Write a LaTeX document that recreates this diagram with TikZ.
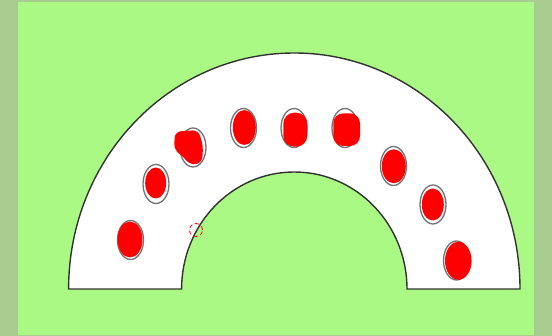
\documentclass[tikz,border=0pt]{standalone}
\usepackage{xcolor}
\usepackage{tikz}
\usetikzlibrary{shapes.geometric}
\definecolor{framegreen}{HTML}{A8CC90}
\definecolor{fieldgreen}{HTML}{AAF984}
\tikzstyle{arch}=[
draw=black!80,
line width=1.4pt,
fill=white
]
\tikzstyle{hole}=[
draw=black!55,
line width=1.3pt,
ellipse,
minimum width=26pt,
minimum height=39pt,
inner sep=0pt
]
\tikzstyle{blob}=[
fill=red
]
\tikzstyle{marker}=[
draw=red,
line width=0.8pt,
dash pattern=on 4pt off 3pt
]

\begin{document}
\begin{tikzpicture}[x=1pt,y=1pt]

% frame and field
\fill[framegreen] (0,0) rectangle (552,336);
\fill[fieldgreen] (18,1) rectangle (534,334);
\useasboundingbox (0,0) rectangle (552,336);

% the arch
\draw[arch] (68.6,47) arc[start angle=180, end angle=0, x radius=225.7, y radius=236]
  -- (407,47) arc[start angle=0, end angle=180, x radius=112.7, y radius=117] -- cycle;

% holes
\node (h1) [hole] at (130.5,96) {};
\node (h2) [hole] at (156,152) {};
\node (h3) [hole] at (193,188.5) {};
\node (h4) [hole] at (243.5,208) {};
\node (h5) [hole] at (294,208) {};
\node (h6) [hole] at (345,208) {};
\node (h7) [hole] at (393.5,170) {};
\node (h8) [hole] at (433,131.5) {};
\node (h9) [hole] at (456.5,75.5) {};

% red fills
\fill[blob] (130,96.5) ellipse[x radius=12.5, y radius=18];
\fill[blob] (155.7,153) ellipse[x radius=10.5, y radius=15.5];
\fill[blob, rounded corners=6pt] (175,204.3) -- (198.3,206) -- (203.3,189.3)
  -- (201.7,172.7) -- (190,171) -- (181.7,181) -- (174,186) -- cycle;
\fill[blob] (244.3,208.5) ellipse[x radius=11.5, y radius=17.5];
\fill[blob, rounded corners=11pt] (283.3,223.3) rectangle (307.3,189.3);
\fill[blob, rounded corners=10pt] (333.3,222.7) rectangle (360,190);
\fill[blob] (393.8,169.7) ellipse[x radius=12, y radius=17];
\fill[blob] (432.8,131.5) ellipse[x radius=11, y radius=16];
\fill[blob] (458.3,75.2) ellipse[x radius=13.3, y radius=19];

% small marker
\draw[marker] (196,106) circle[radius=6.5];

\end{tikzpicture}
\end{document}
